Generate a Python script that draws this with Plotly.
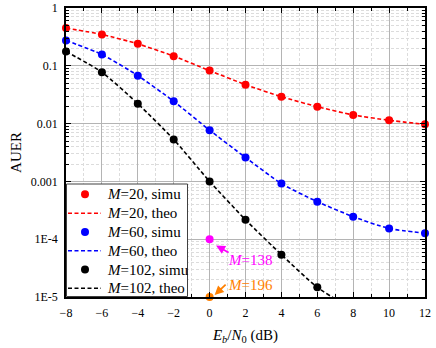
import plotly.graph_objects as go

snr_db = [-8, -6, -4, -2, 0, 2, 4, 6, 8, 10, 12]
auer_m20 = [0.45, 0.348, 0.24, 0.147, 0.0826, 0.0472, 0.0292, 0.0196, 0.0141, 0.0114, 0.0097]
auer_m60 = [0.274, 0.157, 0.0676, 0.0243, 0.0077, 0.00259, 0.000916, 0.000446, 0.000245, 0.000153, 0.000127]
snr_m102 = [-8, -6, -4, -2, 0, 2, 4, 6]
auer_m102 = [0.177, 0.0774, 0.0221, 0.00532, 0.001, 0.000217, 5.4e-5, 1.47e-5]
snr_m102_theo = [-8, -6, -4, -2, 0, 2, 4, 6, 8]
auer_m102_theo = [0.177, 0.0774, 0.0221, 0.00532, 0.001, 0.000217, 5.4e-5, 1.47e-5, 6e-6]
extra_snr = [0, 0]
extra_auer = [1e-4, 1e-5]
extra_labels = ["<i>M</i>=138", "<i>M</i>=196"]
extra_colors = ["#ff00ff", "#ff8000"]

ytick_vals = [1, 0.1, 0.01, 0.001, 1e-4, 1e-5]
ytick_text = ["1", "0.1", "0.01", "0.001", "1E-4", "1E-5"]

FONT = "Liberation Serif"
W, H = 436, 348
ML, MR, MT, MB = 66, 11, 8, 51
PW, PH = W - ML - MR, H - MT - MB

series = [
    ("20", snr_db, auer_m20, snr_db, auer_m20, "#ff0000"),
    ("60", snr_db, auer_m60, snr_db, auer_m60, "#0000ff"),
    ("102", snr_m102, auer_m102, snr_m102_theo, auer_m102_theo, "#000000"),
]
DASH = "4px,2.5px"

fig = go.Figure()
for m, xs, ys, xt, yt, col in series:
    fig.add_trace(go.Scatter(
        x=xt, y=yt, mode="lines", name=f"<i>M</i>={m}, theo", showlegend=False,
        line=dict(color=col, width=1.6, dash=DASH, shape="spline", smoothing=0.6)))
for m, xs, ys, xt, yt, col in series:
    fig.add_trace(go.Scatter(
        x=xs, y=ys, mode="markers", name=f"<i>M</i>={m}, simu", showlegend=False,
        marker=dict(color=col, size=8, symbol="circle"), cliponaxis=False))
for xv, yv, col in zip(extra_snr, extra_auer, extra_colors):
    fig.add_trace(go.Scatter(x=[xv], y=[yv], mode="markers", showlegend=False,
                             marker=dict(color=col, size=8), cliponaxis=False))

# arrows (text-less) and labels
fig.add_annotation(x=0.36, y=-4.11, xref="x", yref="y", text=" ", showarrow=True,
                   ax=13, ay=7.2, arrowcolor=extra_colors[0], arrowhead=2,
                   arrowsize=1, arrowwidth=1.8, font=dict(size=1), borderpad=0)
fig.add_annotation(x=0.28, y=-4.965, xref="x", yref="y", text=" ", showarrow=True,
                   ax=11.5, ay=-10.8, arrowcolor=extra_colors[1], arrowhead=2,
                   arrowsize=1, arrowwidth=1.8, font=dict(size=1), borderpad=0)
fig.add_annotation(x=2.27, y=-4.358, xref="x", yref="y", text=extra_labels[0],
                   showarrow=False, font=dict(family=FONT, size=15, color=extra_colors[0]))
fig.add_annotation(x=2.27, y=-4.80, xref="x", yref="y", text=extra_labels[1],
                   showarrow=False, font=dict(family=FONT, size=15, color=extra_colors[1]))


# custom legend (pixel layout -> paper coords)
def px(xp):
    return (xp - ML) / PW


def py(yp):
    return (H - MB - yp) / PH


fig.add_shape(type="rect", xref="paper", yref="paper", x0=px(66.5), x1=px(187.5),
              y0=py(296.5), y1=py(184), line=dict(color="#404040", width=1),
              fillcolor="white", layer="above")
row_y = [194.3, 213.2, 232.0, 250.8, 269.6, 288.3]
i = 0
for m, xs, ys, xt, yt, col in series:
    yc = row_y[i]
    fig.add_shape(type="circle", xref="paper", yref="paper", x0=px(81), x1=px(89),
                  y0=py(yc + 4), y1=py(yc - 4), fillcolor=col, line=dict(color=col, width=0),
                  layer="above")
    fig.add_annotation(xref="paper", yref="paper", x=px(105), y=py(yc), text=f"<i>M</i>={m}, simu",
                       showarrow=False, xanchor="left", yanchor="middle",
                       font=dict(family=FONT, size=15, color="black"))
    yc = row_y[i + 1]
    fig.add_shape(type="line", xref="paper", yref="paper", x0=px(68), x1=px(101),
                  y0=py(yc), y1=py(yc), line=dict(color=col, width=1.6, dash=DASH), layer="above")
    fig.add_annotation(xref="paper", yref="paper", x=px(105), y=py(yc), text=f"<i>M</i>={m}, theo",
                       showarrow=False, xanchor="left", yanchor="middle",
                       font=dict(family=FONT, size=15, color="black"))
    i += 2

fig.update_xaxes(
    range=[-8, 12], dtick=2, tick0=-8, showline=True, linecolor="black", linewidth=1.5,
    mirror="allticks", ticks="inside", ticklen=5, tickcolor="black", tickwidth=1,
    showgrid=True, gridcolor="#b4b4b4", gridwidth=1, zeroline=False,
    minor=dict(dtick=1, ticks="inside", ticklen=3, tickcolor="black",
               showgrid=True, gridcolor="#dcdcdc", griddash="3px,2px", gridwidth=1),
    tickfont=dict(family=FONT, size=12, color="black"), ticklabelstandoff=4,
    title=dict(text="<i>E<sub>b</sub></i>/<i>N</i><sub>0</sub> (dB)",
               font=dict(family=FONT, size=15, color="black"), standoff=10),
)
fig.update_yaxes(
    type="log", range=[-5, 0], tickvals=ytick_vals, ticktext=ytick_text,
    showline=True, linecolor="black", linewidth=1.5,
    mirror="allticks", ticks="inside", ticklen=5, tickcolor="black", tickwidth=1,
    showgrid=True, gridcolor="#b4b4b4", gridwidth=1, zeroline=False,
    minor=dict(dtick="D1", ticks="inside", ticklen=3, tickcolor="black",
               showgrid=True, gridcolor="#dcdcdc", griddash="3px,2px", gridwidth=1),
    tickfont=dict(family=FONT, size=12, color="black"), ticklabelstandoff=4,
    title=dict(text="AUER", font=dict(family=FONT, size=15, color="black"), standoff=6),
)
fig.update_layout(
    width=W, height=H, margin=dict(l=ML, r=MR, t=MT, b=MB, autoexpand=False),
    plot_bgcolor="white", paper_bgcolor="white", showlegend=False,
)
fig.write_html("out.html", config={"displayModeBar": False},
               post_script="document.body.style.margin='0';")
